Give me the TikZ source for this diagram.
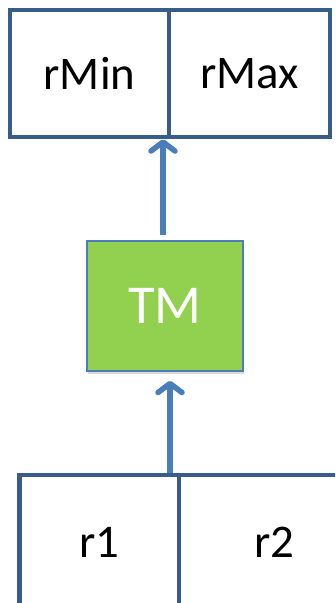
\documentclass[tikz,border=0pt]{standalone}
\usepackage{fontspec}
\setmainfont{Carlito}
\definecolor{boxblue}{RGB}{56,93,138}
\definecolor{flowblue}{RGB}{74,126,187}
\definecolor{tmgreen}{RGB}{146,208,80}
\usetikzlibrary{arrows.meta,positioning,shadows}

\begin{document}
\begin{tikzpicture}[x=1bp, y=1bp,
  cell/.style={draw=boxblue, line width=4.6bp, rectangle, inner sep=0pt, font=\fontsize{47}{50}\selectfont},
  flow/.style={draw=flowblue, line width=5.5bp, -{Straight Barb[length=9bp,width=24bp,round]}}]
\useasboundingbox (0,0) rectangle (335,-603);
\clip (0,0) rectangle (335,-603);
% Output pair
\node[cell, minimum width=159bp, minimum height=127bp] (rmin) at (89.5,-73.5) {rMin};
\node[cell, minimum width=161bp, minimum height=127bp] (rmax) at (249.5,-73.5) {rMax};
% Machine
\node[draw=flowblue, line width=1.5bp, fill=tmgreen, text=white, minimum width=156bp, minimum height=130bp,
  font=\fontsize{55}{58}\selectfont,
  drop shadow={opacity=0.3, shadow xshift=1bp, shadow yshift=-3bp}] (tm) at (165,-306) {TM};
% Input pair
\node[cell, minimum width=159.5bp, minimum height=134bp] (r1) at (99.25,-542) {r1};
\node[cell, minimum width=191bp, minimum height=134bp] (r2) at (274.5,-542) {r2};
% Arrows
\draw[flow, shorten <=5bp] ([xshift=-2bp]tm.north) -- ([xshift=-2bp]tm.north |- rmin.south);
\draw[flow, shorten >=9bp] ([xshift=5bp]tm.south |- r1.north) -- ([xshift=5bp]tm.south);
\end{tikzpicture}
\end{document}
